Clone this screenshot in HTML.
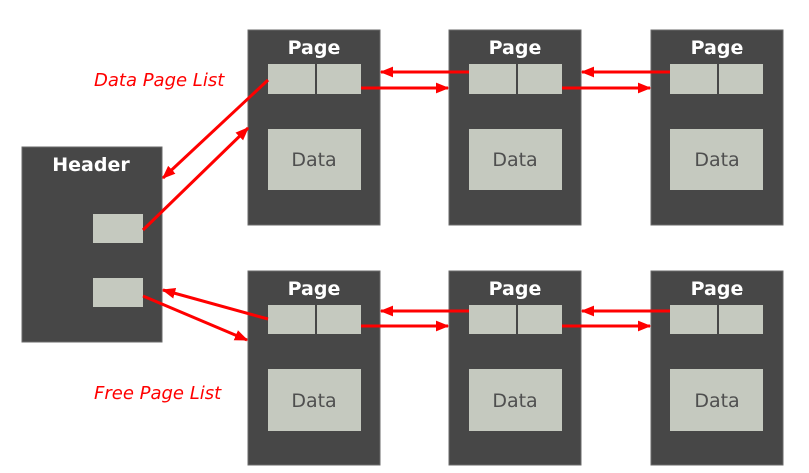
<!DOCTYPE html>
<html><head><style>
body{margin:0;background:#fff;}
svg{display:block;}
.pg{fill:#474747;stroke:#6a6a6a;stroke-width:1;}
.sl{fill:#c5c9bf;}
.t{font-family:"DejaVu Sans","Liberation Sans",sans-serif;font-weight:bold;font-size:19px;fill:#fff;text-anchor:middle;}
.d{font-family:"DejaVu Sans","Liberation Sans",sans-serif;font-size:19px;fill:#4f4f4f;text-anchor:middle;}
.lbl{font-family:"DejaVu Sans","Liberation Sans",sans-serif;font-style:italic;font-size:18px;fill:#f00;}
.a{stroke:#f00;stroke-width:3;fill:none;marker-end:url(#ah);}
</style></head><body>
<svg width="809" height="473" viewBox="0 0 809 473">
<defs><marker id="ah" viewBox="0 0 10 10" refX="9" refY="5" markerWidth="4.5" markerHeight="4.5" orient="auto" markerUnits="strokeWidth"><path d="M0,1 L10,5 L0,9 Z" fill="#f00"/></marker></defs>
<rect class="pg" x="22" y="147" width="140" height="195"/>
<text class="t" x="91" y="171">Header</text>
<rect class="sl" x="93" y="214" width="50" height="29"/>
<rect class="sl" x="93" y="278" width="50" height="29"/>
<g>
<rect class="pg" x="248" y="30" width="132" height="195"/><text class="t" x="314" y="54">Page</text>
<rect class="sl" x="268" y="64" width="47" height="30"/><rect class="sl" x="317" y="64" width="44" height="30"/>
<rect class="sl" x="268" y="129" width="93" height="61"/><text class="d" x="314" y="166">Data</text>
<rect class="pg" x="449" y="30" width="132" height="195"/><text class="t" x="515" y="54">Page</text>
<rect class="sl" x="469" y="64" width="47" height="30"/><rect class="sl" x="518" y="64" width="44" height="30"/>
<rect class="sl" x="469" y="129" width="93" height="61"/><text class="d" x="515" y="166">Data</text>
<rect class="pg" x="651" y="30" width="132" height="195"/><text class="t" x="717" y="54">Page</text>
<rect class="sl" x="670" y="64" width="47" height="30"/><rect class="sl" x="719" y="64" width="44" height="30"/>
<rect class="sl" x="670" y="129" width="93" height="61"/><text class="d" x="717" y="166">Data</text>
<rect class="pg" x="248" y="271" width="132" height="194"/><text class="t" x="314" y="295">Page</text>
<rect class="sl" x="268" y="305" width="47" height="29"/><rect class="sl" x="317" y="305" width="44" height="29"/>
<rect class="sl" x="268" y="369" width="93" height="62"/><text class="d" x="314" y="407">Data</text>
<rect class="pg" x="449" y="271" width="132" height="194"/><text class="t" x="515" y="295">Page</text>
<rect class="sl" x="469" y="305" width="47" height="29"/><rect class="sl" x="518" y="305" width="44" height="29"/>
<rect class="sl" x="469" y="369" width="93" height="62"/><text class="d" x="515" y="407">Data</text>
<rect class="pg" x="651" y="271" width="132" height="194"/><text class="t" x="717" y="295">Page</text>
<rect class="sl" x="670" y="305" width="47" height="29"/><rect class="sl" x="719" y="305" width="44" height="29"/>
<rect class="sl" x="670" y="369" width="93" height="62"/><text class="d" x="717" y="407">Data</text>
</g>
<text class="lbl" x="94" y="86">Data Page List</text>
<text class="lbl" x="94" y="399">Free Page List</text>
<line class="a" x1="469" y1="72" x2="381" y2="72"/>
<line class="a" x1="361" y1="88" x2="448" y2="88"/>
<line class="a" x1="670" y1="72" x2="582" y2="72"/>
<line class="a" x1="562" y1="88" x2="650" y2="88"/>
<line class="a" x1="469" y1="311" x2="381" y2="311"/>
<line class="a" x1="361" y1="326" x2="448" y2="326"/>
<line class="a" x1="670" y1="311" x2="582" y2="311"/>
<line class="a" x1="562" y1="326" x2="650" y2="326"/>
<line class="a" x1="268" y1="80" x2="163" y2="178"/>
<line class="a" x1="143" y1="230" x2="248" y2="128"/>
<line class="a" x1="268" y1="319" x2="163" y2="290"/>
<line class="a" x1="143" y1="296" x2="247" y2="340"/>
</svg>
</body></html>
